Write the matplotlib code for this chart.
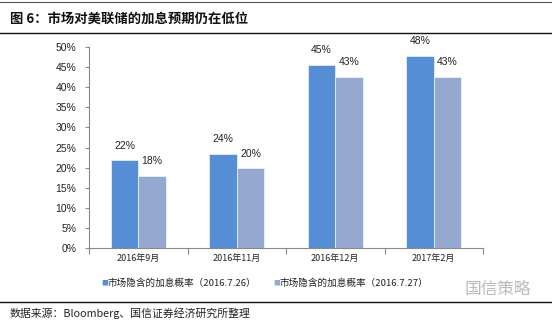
import matplotlib
matplotlib.use("Agg")
import matplotlib.pyplot as plt
import numpy as np
from matplotlib.lines import Line2D

plt.rcParams['font.family'] = ['Noto Sans CJK SC', 'DejaVu Sans']

categories = ["2016年9月", "2016年11月", "2016年12月", "2017年2月"]
series1_name = "市场隐含的加息概率（2016.7.26）"
series2_name = "市场隐含的加息概率（2016.7.27）"
series1 = [21.8, 23.5, 45.5, 47.8]
series2 = [17.9, 19.8, 42.6, 42.6]
labels1 = ["22%", "24%", "45%", "48%"]
labels2 = ["18%", "20%", "43%", "43%"]
yticks = [0, 5, 10, 15, 20, 25, 30, 35, 40, 45, 50]

c1 = "#558ED5"
c2 = "#95A9D0"

fig = plt.figure(figsize=(5.52, 3.23), dpi=100)
ax = fig.add_axes([89/552, 1-248.3/323, (483-89)/552, (248.3-46.7)/323])

x = np.arange(len(categories))
w = 0.28
b1 = ax.bar(x - w/2, series1, w, color=c1, edgecolor="white", linewidth=0.4)
b2 = ax.bar(x + w/2, series2, w, color=c2, edgecolor="white", linewidth=0.4)

for rect, lab in zip(b1, labels1):
    ax.annotate(lab, (rect.get_x() + rect.get_width()/2, rect.get_height()),
                xytext=(0, 7), textcoords="offset points", ha="center", va="bottom",
                fontsize=7.5, family="Liberation Sans", color="#222222")
for rect, lab in zip(b2, labels2):
    ax.annotate(lab, (rect.get_x() + rect.get_width()/2, rect.get_height()),
                xytext=(0, 7), textcoords="offset points", ha="center", va="bottom",
                fontsize=7.5, family="Liberation Sans", color="#222222")

ax.set_xlim(-0.5, len(categories) - 0.5)
ax.set_ylim(0, 50)
ax.set_yticks(yticks)
ax.set_yticklabels([f"{v}%" for v in yticks], fontsize=7.5, family="Liberation Sans", color="#222222")
ax.set_xticks(np.arange(len(categories) + 1) - 0.5)
ax.set_xticklabels([])
ax.set_xticks(x, minor=True)
ax.set_xticklabels(categories, minor=True, fontsize=6.5, color="#222222")
ax.tick_params(axis="x", which="minor", length=0, pad=4)
ax.tick_params(axis="x", which="major", length=4, color="#888888", direction="out")
ax.tick_params(axis="y", length=3, color="#888888", direction="out", pad=6)
for s in ["top", "right"]:
    ax.spines[s].set_visible(False)
ax.spines["left"].set_color("#888888")
ax.spines["bottom"].set_color("#888888")

# header lines and title
fig.add_artist(Line2D([0, 1], [1-2/323, 1-2/323], color="#555555", linewidth=0.8))
fig.add_artist(Line2D([0, 1], [1-33/323, 1-33/323], color="#111111", linewidth=1.0))
fig.text(10/552, 1-19/323, "图 6：市场对美联储的加息预期仍在低位", fontsize=9.6, fontweight="bold",
         va="center", ha="left", color="#111111")

# legend
fig.text(101/552, 1-283/323, "■", fontsize=5, color=c1, va="center", ha="left")
fig.text(108/552, 1-283/323, series1_name, fontsize=6.9, va="center", ha="left", color="#222222")
fig.text(273/552, 1-283/323, "■", fontsize=5, color=c2, va="center", ha="left")
fig.text(280/552, 1-283/323, series2_name, fontsize=6.9, va="center", ha="left", color="#222222")

# watermark
fig.text(465/552, 1-289/323, "国信策略", fontsize=12, color="#bbbbbb", va="center", ha="left")

# footer
fig.add_artist(Line2D([0, 1], [1-302/323, 1-302/323], color="#111111", linewidth=1.0))
fig.text(10/552, 1-313/323, "数据来源：Bloomberg、国信证券经济研究所整理", fontsize=7.8,
         va="center", ha="left", color="#222222")

fig.savefig("out.png", dpi=100)
